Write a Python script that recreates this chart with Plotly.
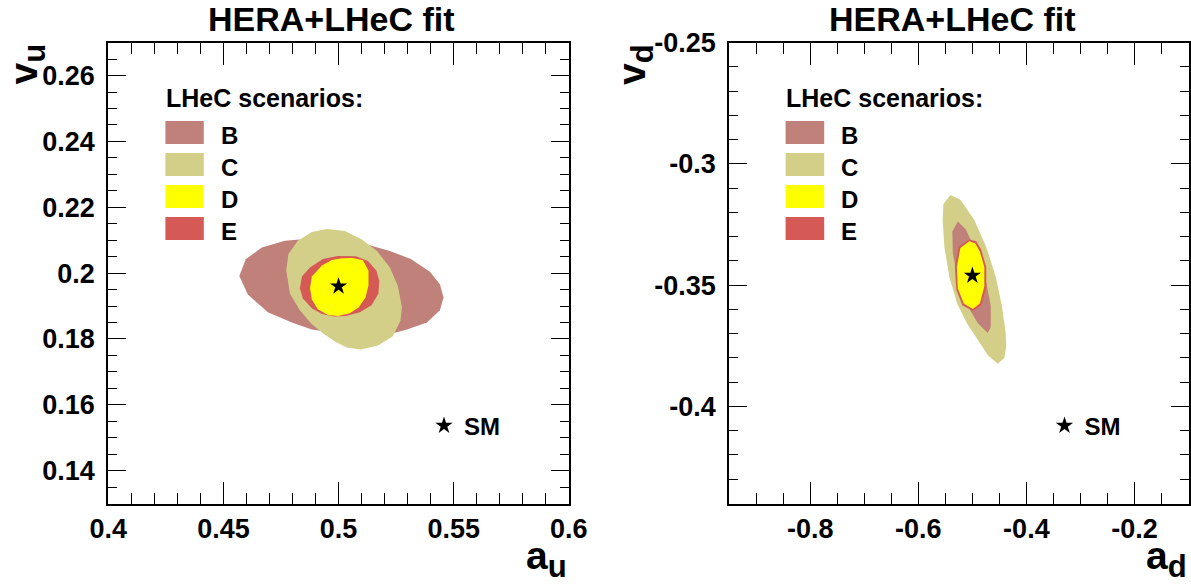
import plotly.graph_objects as go
from plotly.subplots import make_subplots

W, H = 1191, 586

# ---- confidence contours in the (a_u, v_u) plane ----
u_B_a = [0.4569, 0.4597, 0.4667, 0.4767, 0.4832, 0.4919, 0.5028, 0.5123, 0.5223, 0.5314, 0.5397, 0.5440,
         0.5456, 0.5440, 0.5384, 0.5297, 0.5236, 0.5136, 0.5028, 0.4884, 0.4797, 0.4693, 0.4606]
u_B_v = [0.1991, 0.2042, 0.2078, 0.2098, 0.2102, 0.2101, 0.2096, 0.2087, 0.2067, 0.2043, 0.2004, 0.1966,
         0.1926, 0.1887, 0.1850, 0.1829, 0.1817, 0.1811, 0.1814, 0.1829, 0.1850, 0.1881, 0.1935]
u_C_a = [0.4884, 0.4949, 0.5028, 0.5101, 0.5167, 0.5223, 0.5258, 0.5275, 0.5269, 0.5236, 0.5171, 0.5097,
         0.5036, 0.4988, 0.4936, 0.4882, 0.4832, 0.4789, 0.4773, 0.4782, 0.4823]
u_C_v = [0.2125, 0.2134, 0.2128, 0.2102, 0.2067, 0.2017, 0.1960, 0.1896, 0.1856, 0.1808, 0.1780, 0.1768,
         0.1774, 0.1791, 0.1815, 0.1846, 0.1887, 0.1937, 0.2008, 0.2058, 0.2098]
u_E_a = [0.4932, 0.4997, 0.5075, 0.5128, 0.5164, 0.5177, 0.5173, 0.5143, 0.5093, 0.5032, 0.4980, 0.4928,
         0.4884, 0.4845, 0.4832, 0.4841, 0.4876]
u_E_v = [0.2043, 0.2052, 0.2051, 0.2037, 0.2008, 0.1976, 0.1937, 0.1902, 0.1881, 0.1870, 0.1868, 0.1876,
         0.1893, 0.1923, 0.1954, 0.1990, 0.2017]
u_D_a = [0.4928, 0.4971, 0.5015, 0.5062, 0.5106, 0.5130, 0.5130, 0.5117, 0.5088, 0.5049, 0.4997, 0.4954,
         0.4910, 0.4884, 0.4876, 0.4884]
u_D_v = [0.2023, 0.2040, 0.2045, 0.2046, 0.2039, 0.2007, 0.1963, 0.1926, 0.1896, 0.1878, 0.1870, 0.1873,
         0.1890, 0.1920, 0.1954, 0.1990]
u_SM = (0.500, 0.196)

# ---- confidence contours in the (a_d, v_d) plane ----
d_C_a = [-0.5407, -0.5222, -0.4964, -0.4743, -0.4567, -0.4457, -0.4383, -0.4373, -0.4410, -0.4530, -0.4706,
         -0.4909, -0.5093, -0.5278, -0.5425, -0.5518, -0.5549, -0.5536]
d_C_v = [-0.3128, -0.3148, -0.3231, -0.3342, -0.3466, -0.3581, -0.3697, -0.3754, -0.3800, -0.3824, -0.3791,
         -0.3725, -0.3660, -0.3577, -0.3466, -0.3342, -0.3231, -0.3165]
d_B_a = [-0.5269, -0.5121, -0.4927, -0.4752, -0.4660, -0.4660, -0.4715, -0.4899, -0.5112, -0.5269, -0.5361,
         -0.5370]
d_B_v = [-0.3237, -0.3270, -0.3363, -0.3478, -0.3585, -0.3672, -0.3697, -0.3657, -0.3575, -0.3478, -0.3367,
         -0.3278]
d_E_a = [-0.5056, -0.4927, -0.4835, -0.4743, -0.4743, -0.4835, -0.4992, -0.5185, -0.5296, -0.5324, -0.5250]
d_E_v = [-0.3311, -0.3319, -0.3354, -0.3425, -0.3507, -0.3583, -0.3606, -0.3583, -0.3519, -0.3425, -0.3340]
d_D_a = [-0.5056, -0.4946, -0.4862, -0.4779, -0.4779, -0.4862, -0.4992, -0.5158, -0.5269, -0.5287, -0.5222]
d_D_v = [-0.3319, -0.3328, -0.3361, -0.3425, -0.3505, -0.3575, -0.3598, -0.3575, -0.3513, -0.3425, -0.3346]
d_SM = (-0.500, -0.346)

# ---- axes ----
u_x_ticks = [0.40, 0.45, 0.50, 0.55, 0.60]
u_x_text = ["0.4", "0.45", "0.5", "0.55", "0.6"]
u_y_ticks = [0.14, 0.16, 0.18, 0.20, 0.22, 0.24, 0.26]
u_y_text = ["0.14", "0.16", "0.18", "0.2", "0.22", "0.24", "0.26"]
d_x_ticks = [-0.8, -0.6, -0.4, -0.2]
d_x_text = ["-0.8", "-0.6", "-0.4", "-0.2"]
d_y_ticks = [-0.40, -0.35, -0.30, -0.25]
d_y_text = ["-0.4", "-0.35", "-0.3", "-0.25"]

scenarios = ["B", "C", "D", "E"]
colors = {"B": "#c0817a", "C": "#d3cf89", "D": "#ffff00", "E": "#d55a55"}

FONT = "Liberation Sans, Arial, Helvetica, sans-serif"


def px(x):
    return x / W


def py(y):
    return 1 - y / H


fig = make_subplots(rows=1, cols=2)


def contour(a, v, key, col):
    fig.add_trace(go.Scatter(x=a + a[:1], y=v + v[:1], mode="lines", fill="toself",
                             fillcolor=colors[key], line=dict(width=0, color=colors[key]),
                             hoverinfo="skip", showlegend=False), row=1, col=col)


# left panel: B under C, then E and D
contour(u_B_a, u_B_v, "B", 1)
contour(u_C_a, u_C_v, "C", 1)
contour(u_E_a, u_E_v, "E", 1)
contour(u_D_a, u_D_v, "D", 1)
# right panel: C under B, then E and D
contour(d_C_a, d_C_v, "C", 2)
contour(d_B_a, d_B_v, "B", 2)
contour(d_E_a, d_E_v, "E", 2)
contour(d_D_a, d_D_v, "D", 2)

for sm, col, leg in [(u_SM, 1, "legend"), (d_SM, 2, "legend2")]:
    fig.add_trace(go.Scatter(x=[sm[0]], y=[sm[1]], mode="markers", name="SM",
                             marker=dict(symbol="star", size=13, color="black", line=dict(width=0)),
                             legend=leg, showlegend=True), row=1, col=col)

y_dom = [py(503.5), py(42.7)]
axis_common = dict(showline=True, linewidth=2, linecolor="black", mirror="ticks",
                   ticks="inside", tickwidth=1, tickcolor="black", showgrid=False, zeroline=False,
                   tickfont=dict(family=FONT, size=27, color="black", weight="bold"),
                   tickmode="array", automargin=False)

fig.update_xaxes(domain=[px(108.3), px(568.8)], range=[0.4, 0.6], tickvals=u_x_ticks, ticktext=u_x_text,
                 ticklen=22, ticklabelstandoff=0,
                 minor=dict(tickmode="linear", tick0=0.4, dtick=0.01, ticklen=11, tickwidth=1,
                            tickcolor="black", ticks="inside", showgrid=False),
                 row=1, col=1, **axis_common)
fig.update_yaxes(domain=y_dom, range=[0.13, 0.27], tickvals=u_y_ticks, ticktext=u_y_text,
                 ticklen=18, ticklabelstandoff=6,
                 minor=dict(tickmode="linear", tick0=0.13, dtick=0.005, ticklen=9, tickwidth=1,
                            tickcolor="black", ticks="inside", showgrid=False),
                 row=1, col=1, **axis_common)
fig.update_xaxes(domain=[px(729.2), px(1188.5)], range=[-0.95, -0.1], tickvals=d_x_ticks, ticktext=d_x_text,
                 ticklen=22, ticklabelstandoff=0,
                 minor=dict(tickmode="linear", tick0=-1.0, dtick=0.05, ticklen=11, tickwidth=1,
                            tickcolor="black", ticks="inside", showgrid=False),
                 row=1, col=2, **axis_common)
fig.update_yaxes(domain=y_dom, range=[-0.44, -0.25], tickvals=d_y_ticks, ticktext=d_y_text,
                 ticklen=18, ticklabelstandoff=6,
                 minor=dict(tickmode="linear", tick0=-0.45, dtick=0.01, ticklen=9, tickwidth=1,
                            tickcolor="black", ticks="inside", showgrid=False),
                 row=1, col=2, **axis_common)

ann = []
shapes = []


def text(x, y, s, size, xanchor="left", yanchor="middle", angle=0):
    ann.append(dict(x=px(x), y=py(y), xref="paper", yref="paper", text=s, showarrow=False,
                    xanchor=xanchor, yanchor=yanchor, textangle=angle,
                    font=dict(family=FONT, size=size, color="black", weight="bold")))


def sub_title(main, index):
    return main + '<sub><span style="font-size:31px">' + index + "</span></sub>"


# panel titles
text(331.7, 19, "HERA+LHeC fit", 34, xanchor="center")
text(952.3, 19, "HERA+LHeC fit", 34, xanchor="center")

# axis titles
text(0, 42, sub_title("v", "u"), 39, xanchor="left", yanchor="top", angle=-90)
text(608.5, 42, sub_title("v", "d"), 39, xanchor="left", yanchor="top", angle=-90)
text(569, 585.5, sub_title("a", "u"), 39, xanchor="right", yanchor="bottom")
text(1188.5, 585.5, sub_title("a", "d"), 39, xanchor="right", yanchor="bottom")

# scenario keys
box_rows = [(121, 144), (153, 176), (185, 208), (217, 240)]
for head_x, box_x0, box_x1, lab_x in [(163.5, 165.4, 203.8, 218.5), (783.7, 785.6, 824.2, 838.7)]:
    text(head_x, 98.3, "LHeC scenarios:", 25)
    for key, (y0, y1) in zip(scenarios, box_rows):
        shapes.append(dict(type="rect", xref="paper", yref="paper", x0=px(box_x0), x1=px(box_x1),
                           y0=py(y1), y1=py(y0), fillcolor=colors[key], line=dict(width=0)))
        text(lab_x, (y0 + y1) / 2 + 3, key, 24)

legend_style = dict(bgcolor="rgba(0,0,0,0)", borderwidth=0, xanchor="left", yanchor="middle",
                    font=dict(family=FONT, size=24, color="black", weight="bold"),
                    itemsizing="trace")

fig.update_layout(
    width=W, height=H, margin=dict(l=0, r=0, t=0, b=0),
    paper_bgcolor="white", plot_bgcolor="white",
    annotations=ann, shapes=shapes,
    legend=dict(x=px(424), y=py(426), **legend_style),
    legend2=dict(x=px(1044.5), y=py(426), **legend_style),
)

fig.write_html("out.html")
